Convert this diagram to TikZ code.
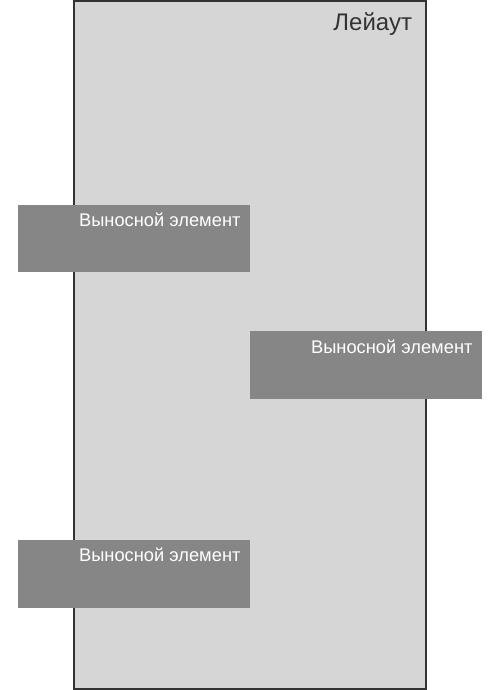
\documentclass[tikz,border=0pt]{standalone}
\usepackage{fontspec}
\setmainfont{Liberation Sans}
\usetikzlibrary{positioning}
\definecolor{frame}{HTML}{333333}
\definecolor{sheet}{HTML}{D6D6D6}
\definecolor{block}{HTML}{868686}

\begin{document}
\begin{tikzpicture}[x=1pt,y=1pt,layout/.style={draw=frame,line width=2.4pt,fill=sheet,minimum width=352pt,minimum height=688pt,inner sep=0pt},callout/.style={fill=block,minimum width=232pt,minimum height=67.5pt,inner sep=0pt},caption/.style={text=white,anchor=base east,inner sep=0pt,font=\fontsize{18.3}{21}\selectfont}]
 \useasboundingbox (0,0) rectangle (500,690);
 \node[layout] (sheet) at (250,345) {};
 \node[text=frame,anchor=base east,inner sep=0pt,font=\fontsize{24}{27}\selectfont] (title) at ([shift={(-15,-30.5)}]sheet.north east) {Лейаут};
 \node[callout] (top) at (134,451.25) {};
 \node[callout] (mid) at (366,325) {};
 \node[callout] (low) at (134,116.1) {};
 \node[caption] (toptext) at ([shift={(-9.5,-22)}]top.north east) {Выносной элемент};
 \node[caption] (midtext) at ([shift={(-9.5,-22)}]mid.north east) {Выносной элемент};
 \node[caption] (lowtext) at ([shift={(-9.5,-22)}]low.north east) {Выносной элемент};
\end{tikzpicture}
\end{document}
